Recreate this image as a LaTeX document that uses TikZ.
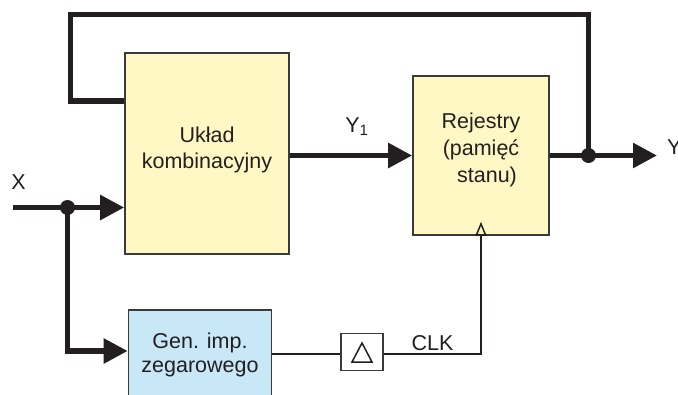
\documentclass[tikz,border=0pt]{standalone}
\usepackage{fontspec}
\setmainfont{Liberation Sans}
\usetikzlibrary{arrows.meta}
\definecolor{ink}{HTML}{231F20}
\definecolor{frame}{HTML}{3A3A3A}
\definecolor{boxyellow}{HTML}{FFF8C4}
\definecolor{boxblue}{HTML}{C8E8F8}

\begin{document}
\begin{tikzpicture}[x=1pt,y=-1pt,
  block/.style={draw=frame, line width=1.6pt, inner sep=0pt},
  bus/.style={draw=ink, line width=5.5pt},
  busarrow/.style={bus, -{Triangle[length=24pt,width=24pt]}},
  wire/.style={draw=ink, line width=1.8pt},
  lbl/.style={font=\fontsize{21.5}{26}\selectfont, text=ink, inner sep=0pt, align=center},
  junction/.style={circle, fill=ink, minimum size=15pt, inner sep=0pt}]

\useasboundingbox (0,0) rectangle (678,394);

% blocks
\node[block, fill=boxyellow, minimum width=164pt, minimum height=201pt] (comb) at (207,153.5) {};
\node[block, fill=boxyellow, minimum width=136pt, minimum height=159pt] (reg) at (481,155.5) {};
\node[block, fill=boxblue, minimum width=143pt, minimum height=88pt] (gen) at (200,354) {};
\node[block, fill=white, minimum width=42pt, minimum height=37pt] (buf) at (362,352) {};
\draw[wire, line width=1.5pt, line join=miter]
  ([shift={(-10,10)}]buf.center) -- ([shift={(0,-9)}]buf.center) -- ([shift={(10,10)}]buf.center) -- cycle;

% block texts
\node[lbl] (combtxt) at (207,149.5) {Układ\\kombinacyjny};
\node[lbl, font=\fontsize{21.5}{27}\selectfont] (regtxt) at (481,149.5) {Rejestry\\(pamięć\\\hspace*{12pt}stanu)};
\node[lbl, font=\fontsize{21.5}{24}\selectfont] (gentxt) at (200,354.5) {Gen. imp.\\zegarowego};

% signal labels
\node[lbl, anchor=base] (xlbl) at (18.5,189) {X};
\node[lbl, anchor=base] (y1lbl) at (357,132) {Y\textsubscript{1}};
\node[lbl, anchor=base west] (ylbl) at (667,154) {Y};
\node[lbl, anchor=base] (clklbl) at (432.5,350) {CLK};

% junctions and free ends
\coordinate (xin) at (13,207.5);
\coordinate (xj) at (67.5,207.5);
\coordinate (yj) at (588.5,155.5);
\coordinate (yout) at (657,155.5);
\coordinate (fbtop) at (70.5,14.5);
\coordinate (clkin) at ([yshift=14pt]reg.south);

% input X
\draw[busarrow] (xin) -- (comb.west |- xin);
\draw[busarrow] (xj) |- ([yshift=3pt]gen.west);

% Y1 and output Y
\draw[busarrow] (comb.east |- reg.west) -- (reg.west);
\draw[bus] (reg.east) -- (yj);
\draw[busarrow] (yj) -- (yout);

% state feedback
\draw[bus, line join=miter] (yj) |- (fbtop) |- ([yshift=52.5pt]comb.west);

% clock path
\draw[wire] (gen.east) -- (gen.east -| buf.west);
\draw[wire, -{Triangle[open, length=14pt, width=11pt, line width=1.5pt]}]
  (buf.east |- gen.east) -| (clkin);

\node[junction] (xdot) at (xj) {};
\node[junction] (ydot) at (yj) {};
\end{tikzpicture}
\end{document}
